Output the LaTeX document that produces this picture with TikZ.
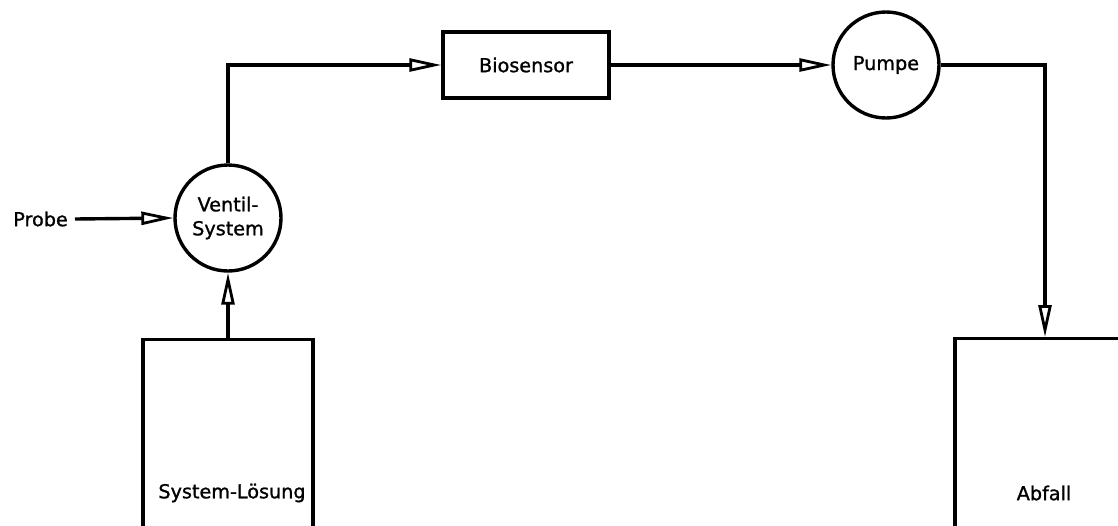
\documentclass[tikz,border=0pt]{standalone}
\usepackage{fontspec}
\setmainfont{DejaVu Sans}[BoldFont=DejaVu Sans, BoldFeatures={FakeBold=1.2}]
\usetikzlibrary{arrows.meta}
\begin{document}
\begin{tikzpicture}[x=1pt,y=-1pt,
  every node/.style={font=\fontsize{19.2}{24}\selectfont\bfseries},
  stdbox/.style={draw, line width=3.4pt, rectangle, inner sep=0pt},
  rund/.style={draw, line width=3.4pt, circle, minimum size=106pt, inner sep=0pt, align=center},
  flow/.style={line width=3.4pt, -{Triangle[open, length=32pt, width=13pt, line width=2.8pt]}}]
\useasboundingbox (0,0) rectangle (1118,525);
\clip (0,0) rectangle (1118,525);
\node[rund] (ventil) at (228,218) {Ventil-\\System};
\node[stdbox, minimum width=166pt, minimum height=66pt] (bio) at (526,65) {Biosensor};
\node[rund] (pumpe) at (886,65) {Pumpe};
\node[stdbox, minimum width=170pt, minimum height=240pt, anchor=north] (sys) at (228,338) {};
\node (syslab) at (232,493) {System-Lösung};
\node[stdbox, minimum width=180pt, minimum height=240pt, anchor=north] (abf) at (1045,337) {};
\node (abflab) at (1044,493) {Abfall};
\node[anchor=east, inner sep=2pt] (probe) at (70,219) {Probe};
\draw[flow] (probe.east) ++(5,0) -- (ventil.west);
\draw[flow] (ventil.north) |- (bio.west);
\draw[flow] (bio.east) -- (pumpe.west);
\draw[flow] (pumpe.east) -| (abf.north);
\draw[flow] (sys.north) -- (ventil.south);
\end{tikzpicture}
\end{document}
